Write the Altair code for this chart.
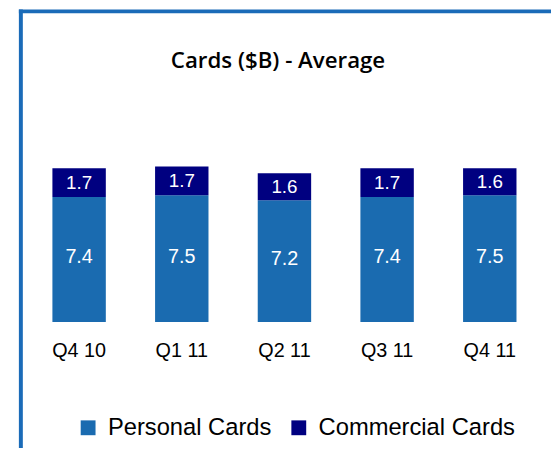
import altair as alt
import pandas as pd

quarters = ["Q4 10", "Q1 11", "Q2 11", "Q3 11", "Q4 11"]
personal = [7.4, 7.5, 7.2, 7.4, 7.5]
commercial = [1.7, 1.7, 1.6, 1.7, 1.6]
series = ["Personal Cards", "Commercial Cards"]
colors = ["#1A6BB0", "#000080"]
title_text = "Cards ($B) - Average"
frame_color = "#1A6BB8"

rows = []
for i, q in enumerate(quarters):
    rows.append({"quarter": q, "series": series[0], "value": personal[i], "ord": 0})
    rows.append({"quarter": q, "series": series[1], "value": commercial[i], "ord": 1})
df = pd.DataFrame(rows)

base = alt.Chart(df).transform_stack(
    stack="value", groupby=["quarter"], as_=["v0", "v1"],
    sort=[alt.SortField("ord", order="ascending")]
).transform_calculate(mid="(datum.v0 + datum.v1) / 2")

x = alt.X("quarter:N", sort=quarters, title=None,
          scale=alt.Scale(paddingInner=0.48, paddingOuter=0.24),
          axis=alt.Axis(labelAngle=0, labelFont="Liberation Sans", labelFontSize=20,
                        labelColor="black", ticks=False, tickSize=0, domain=False,
                        labelPadding=19, grid=False))
yscale = alt.Scale(domain=[0, 13])

bars = base.mark_bar(size=54).encode(
    x=x,
    y=alt.Y("v0:Q", scale=yscale, axis=None),
    y2="v1:Q",
    color=alt.Color("series:N", scale=alt.Scale(domain=series, range=colors),
                    legend=alt.Legend(title=None, orient="none", legendX=49, legendY=317,
                                      direction="horizontal", symbolType="square",
                                      symbolSize=225, labelFont="Liberation Sans",
                                      labelFontSize=24, labelColor="black", labelOffset=8,
                                      columnPadding=15, symbolStrokeWidth=0,
                                      symbolOpacity=1, labelLimit=0)),
)

lab_p = base.transform_filter(alt.datum.ord == 0).mark_text(
    color="white", font="Liberation Sans", fontSize=20, dy=-2, baseline="middle"
).encode(x=x, y=alt.Y("mid:Q", scale=yscale, axis=None),
         text=alt.Text("value:Q", format=".1f"))

lab_c = base.transform_filter(alt.datum.ord == 1).mark_text(
    color="white", font="Liberation Sans", fontSize=19, baseline="middle"
).encode(x=x, y=alt.Y("mid:Q", scale=yscale, axis=None),
         text=alt.Text("value:Q", format=".1f"))

title = alt.Chart(alt.Data(values=[{"t": title_text}])).mark_text(
    font="Open Sans", fontSize=22.5, fontWeight=600, color="black", baseline="alphabetic"
).encode(x=alt.value(253), y=alt.value(-35), text="t:N")

frame_left = alt.Chart(alt.Data(values=[{}])).mark_rule(
    color=frame_color, strokeWidth=4
).encode(x=alt.value(-7), y=alt.value(-94), y2=alt.value(400))

frame_top = alt.Chart(alt.Data(values=[{}])).mark_rule(
    color=frame_color, strokeWidth=4
).encode(y=alt.value(-92), x=alt.value(-9), x2=alt.value(600))

chart = alt.layer(frame_left, frame_top, bars, lab_p, lab_c, title).properties(
    width=519, height=222,
    autosize=alt.AutoSizeParams(type="none"),
    padding={"left": 20, "top": 93, "right": 10, "bottom": 125},
).configure_view(stroke=None)

chart.save("out.html", embed_options={"renderer": "svg", "actions": False})
